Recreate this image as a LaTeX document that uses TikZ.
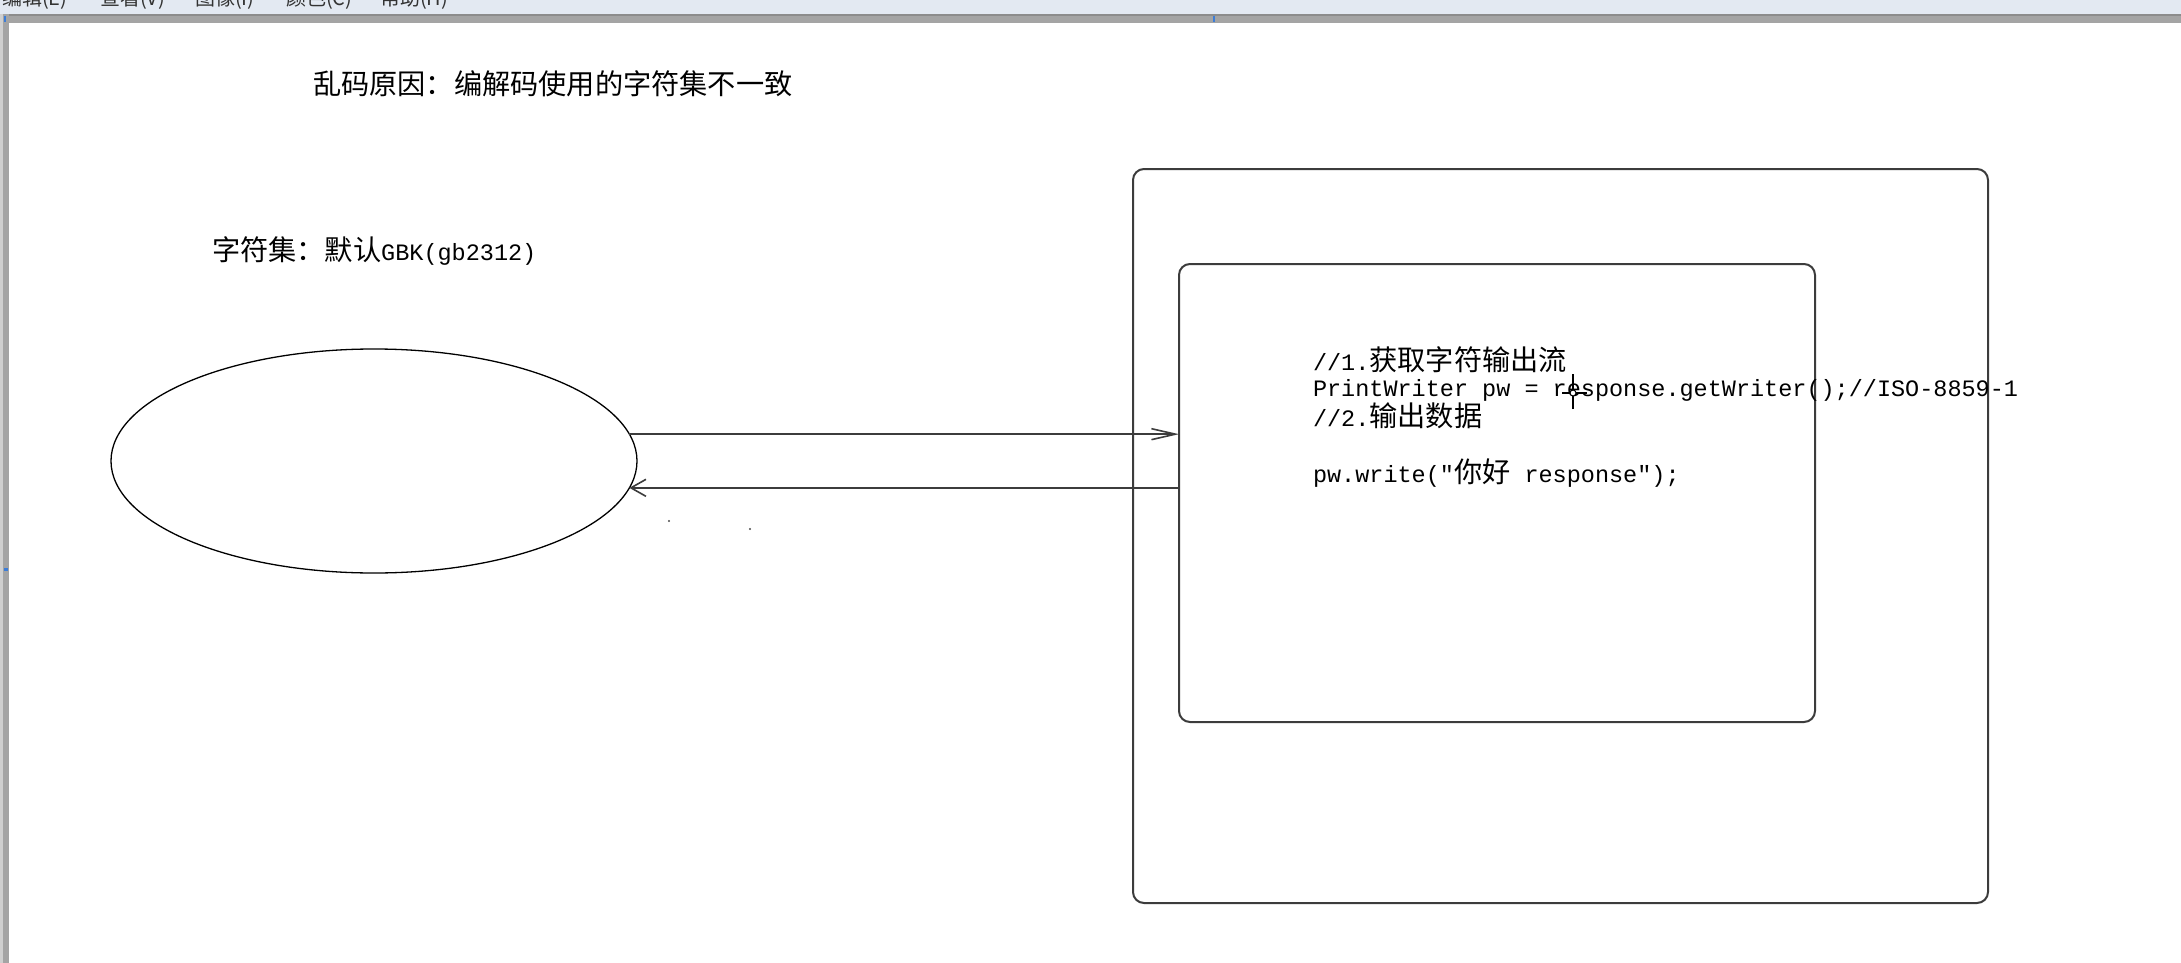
\documentclass[tikz,border=0pt]{standalone}
\usepackage{fontspec}
\newfontfamily\cjkf{Noto Sans CJK SC}
\newfontfamily\monof{Liberation Mono}
\newcommand{\zhT}[1]{{\cjkf\fontsize{28.2}{28.2}\selectfont #1}}
\newcommand{\enT}[1]{{\monof\fontsize{23.5}{28.2}\selectfont #1}}
\newcommand{\menuT}[1]{{\cjkf\fontsize{20}{20}\selectfont #1}}
\usetikzlibrary{arrows.meta,shapes.geometric}
\definecolor{boxgray}{HTML}{3C3C3C}
\definecolor{menubg}{HTML}{E3E9F2}
\definecolor{bandgray}{HTML}{A4A4A4}
\definecolor{banddark}{HTML}{8C8C8C}
\definecolor{bandlight}{HTML}{CFCFCF}
\definecolor{handleblue}{HTML}{3C7DD8}
\begin{document}
\begin{tikzpicture}[x=1pt,y=-1pt,
  txt/.style={anchor=base west, inner sep=0pt, outer sep=0pt, text=black},
  menutxt/.style={anchor=base west, inner sep=0pt, outer sep=0pt, text=black!80},
  roundbox/.style={draw=boxgray, line width=2pt, rounded corners=11pt, inner sep=0pt, outer sep=0pt, anchor=north west},
  client/.style={draw=black, line width=1.3pt, ellipse, inner sep=0pt, outer sep=0pt, minimum width=526pt, minimum height=224pt},
  conn/.style={draw=boxgray, line width=1.6pt},
  reqtip/.style={-{Straight Barb[length=24pt,width=11pt,line width=1.6pt]}},
  resptip/.style={-{Straight Barb[length=15pt,width=17pt,line width=1.6pt]}}]
\useasboundingbox (0,0) rectangle (2181,963);
\fill[white] (0,0) rectangle (2181,963);
% Paint window chrome
\begin{scope}
  \clip (0,0) rectangle (2181,14);
  \fill[menubg] (0,0) rectangle (2181,14);
  \node[menutxt] (m1) at (2,6) {\menuT{编辑(E)}};
  \node[menutxt] (m2) at (100,6) {\menuT{查看(V)}};
  \node[menutxt] (m3) at (195,6) {\menuT{图像(I)}};
  \node[menutxt] (m4) at (286,6) {\menuT{颜色(C)}};
  \node[menutxt] (m5) at (380,6) {\menuT{帮助(H)}};
\end{scope}
\fill[bandgray] (0,14) rectangle (2181,23);
\fill[banddark] (0,14) rectangle (2181,16);
\fill[bandlight] (0,14) rectangle (3,963);
\fill[bandgray] (3,14) rectangle (9,963);
\fill[handleblue] (4,16) rectangle (6,22);
\fill[handleblue] (1213,16) rectangle (1215,22);
\fill[handleblue] (4,568) rectangle (8,571);

% texts
\node[txt] (title) at (313,95) {\zhT{乱码原因：编解码使用的字符集不一致}};
\node[txt] (charset) at (212,260) {\zhT{字符集：默认}\enT{GBK(gb2312)}};

% client ellipse
\node[client] (browser) at (374,461) {};

% server boxes
\node[roundbox, minimum width=855pt, minimum height=734pt] (server) at (1133,169) {};
\node[roundbox, minimum width=636pt, minimum height=458pt] (servlet) at (1179,264) {};

% code
\node[txt] (code1) at (1313,370) {\enT{//1.}\zhT{获取字符输出流}};
\node[txt] (code2) at (1313,396) {\enT{PrintWriter pw = response.getWriter();//ISO-8859-1}};
\node[txt] (code3) at (1313,426) {\enT{//2.}\zhT{输出数据}};
\node[txt] (code4) at (1313,482) {\enT{pw.write("}\zhT{你好}\enT{ response");}};

% connectors
\draw[conn, reqtip] (browser.6) -- (browser.6 -| servlet.west);
\draw[conn, resptip] (browser.-6 -| servlet.west) -- (browser.-6);

% mouse cursor
\coordinate (cur) at (1573,393);
\draw[black, line width=1.3pt] ([yshift=-16pt]cur) -- ([yshift=19pt]cur);
\draw[black, line width=1.3pt] ([xshift=-11pt]cur) -- ([xshift=14pt]cur);
\draw[black, fill=white, line width=1pt] (cur) circle (3pt);

% stray dots
\fill[black!70] (669,521) circle (1.2pt);
\fill[black!70] (750,529) circle (1.2pt);
\end{tikzpicture}
\end{document}
